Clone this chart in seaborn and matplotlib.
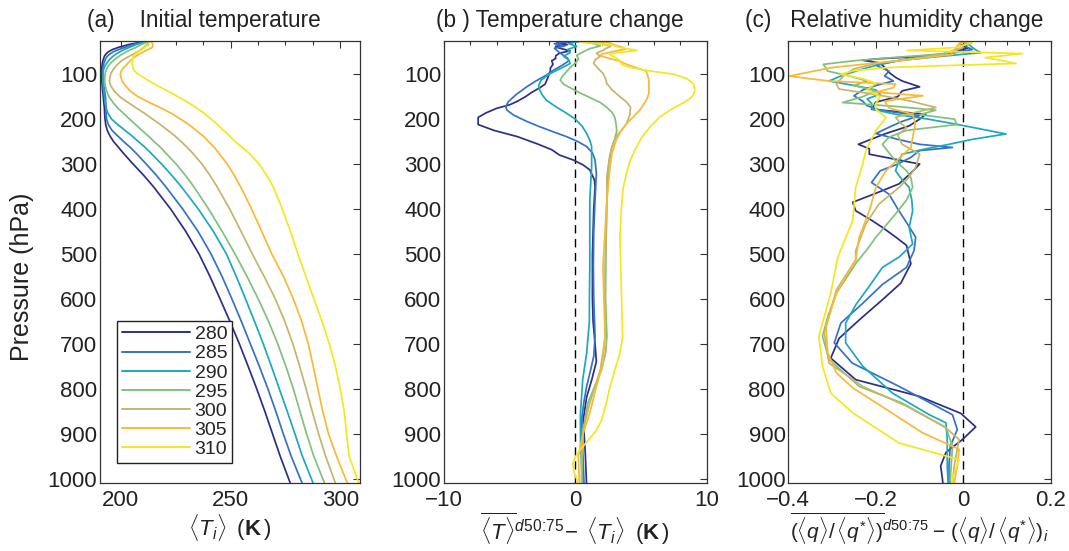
import matplotlib
matplotlib.use("Agg")
import matplotlib.pyplot as plt
from matplotlib.ticker import MultipleLocator
import numpy as np
import pandas as pd
import seaborn as sns

# ---------------------------------------------------------------------------
# Sea-surface temperatures of the seven simulations and their line colours
# ---------------------------------------------------------------------------
sst = [280, 285, 290, 295, 300, 305, 310]
sst_colors = ["#2d2f86", "#3572c6", "#1ba9bf", "#7ec27c",
              "#c3b56b", "#f9b934", "#f5e61f"]

# ---------------------------------------------------------------------------
# (a) initial temperature profiles <T_i> (K) on common pressure levels (hPa)
# ---------------------------------------------------------------------------
p_init = [28, 34, 40, 45, 50, 55, 60, 67, 75, 82, 90, 97, 105, 115, 125, 137,
          150, 162, 175, 187, 200, 212, 225, 237, 250, 262, 275, 300, 325, 350,
          400, 450, 500, 550, 600, 650, 700, 750, 800, 850, 900, 950, 1010]
t_init_280 = [209.6, 203.5, 199.0, 196.2, 194.3, 193.2, 192.5, 192.0, 191.6,
              191.4, 191.2, 191.2, 191.2, 191.3, 191.5, 191.7, 192.0, 192.2,
              192.5, 192.6, 192.8, 193.1, 193.8, 195.0, 196.7, 198.8, 201.0,
              205.6, 210.4, 214.8, 222.7, 229.6, 235.6, 240.6, 245.2, 249.7,
              254.0, 258.0, 261.9, 265.6, 269.1, 272.6, 277.2]
t_init_285 = [210.3, 205.5, 202.0, 199.0, 196.6, 195.0, 193.8, 192.9, 192.3,
              192.0, 191.8, 191.8, 191.8, 192.0, 192.2, 192.6, 193.0, 193.1,
              193.2, 193.3, 193.5, 194.3, 196.0, 198.5, 201.3, 204.1, 206.8,
              211.6, 216.2, 220.4, 228.2, 235.2, 241.1, 246.1, 250.6, 254.9,
              259.0, 263.1, 267.0, 270.6, 274.0, 277.6, 282.6]
t_init_290 = [211.1, 207.0, 204.0, 201.6, 199.6, 197.8, 196.4, 194.9, 193.6,
              192.7, 192.1, 191.9, 191.8, 191.9, 192.0, 192.2, 192.5, 192.8,
              193.3, 194.1, 195.8, 198.6, 201.9, 205.0, 208.0, 210.9, 213.6,
              218.6, 223.2, 227.5, 235.3, 242.2, 248.1, 252.6, 256.8, 260.9,
              264.9, 268.6, 272.2, 275.8, 279.3, 282.7, 287.6]
t_init_295 = [212.0, 209.3, 207.0, 204.6, 202.5, 200.7, 199.1, 197.2, 195.4,
              194.2, 193.4, 192.9, 192.7, 192.6, 192.9, 193.5, 194.6, 196.3,
              198.5, 201.2, 204.0, 206.7, 209.6, 212.4, 215.2, 217.9, 220.4,
              225.2, 229.4, 233.2, 240.0, 246.2, 252.0, 257.5, 262.6, 267.3,
              271.5, 275.2, 278.6, 281.6, 284.6, 287.9, 292.8]
t_init_300 = [212.8, 211.8, 210.5, 209.2, 207.6, 205.8, 203.8, 201.2, 199.1,
              197.7, 196.5, 195.6, 195.1, 194.8, 195.3, 196.9, 199.5, 203.0,
              207.0, 210.8, 214.5, 218.0, 221.4, 224.6, 227.5, 230.1, 232.6,
              237.0, 240.6, 243.8, 249.6, 254.8, 259.9, 265.3, 270.4, 274.7,
              278.4, 281.5, 284.4, 287.2, 290.1, 293.3, 297.8]
t_init_305 = [214.0, 214.6, 214.4, 212.5, 210.3, 208.4, 206.8, 205.0, 203.3,
              202.0, 200.5, 199.8, 199.9, 200.6, 202.0, 204.2, 207.8, 212.6,
              218.2, 223.0, 227.2, 231.0, 234.4, 237.4, 240.0, 242.4, 244.6,
              248.5, 251.7, 254.5, 259.6, 264.2, 268.8, 274.1, 278.6, 282.4,
              285.4, 287.7, 289.8, 292.0, 294.6, 298.3, 303.2]
t_init_310 = [213.2, 212.5, 211.0, 209.5, 208.0, 206.6, 205.7, 205.3, 205.2,
              205.3, 205.8, 207.2, 209.6, 212.8, 216.5, 221.2, 226.0, 230.4,
              234.5, 238.0, 241.2, 244.0, 246.8, 249.5, 252.1, 255.2, 258.3,
              263.0, 266.5, 269.4, 273.6, 277.3, 280.7, 284.3, 288.0, 291.7,
              295.0, 297.8, 300.0, 301.8, 302.9, 304.0, 308.4]

# ---------------------------------------------------------------------------
# (b) temperature change (K): pressure levels and values for each run
# ---------------------------------------------------------------------------
p_dt_280 = [27, 30, 34, 38, 41, 45, 48, 53, 59, 65, 70, 78, 86, 93, 100, 108,
            115, 122, 130, 140, 150, 160, 168, 176, 186, 196, 212, 225, 239,
            255, 268, 280, 291, 302, 313, 335, 350, 400, 500, 600, 650, 700,
            740, 780, 820, 870, 940, 1010]
dt_280 = [0.3, -1.4, -0.6, -1.5, -1.3, -0.8, -0.4, -1.2, -1.5, -1.5, -1.8,
          -1.7, -1.9, -1.9, -2.0, -2.1, -2.2, -2.3, -2.7, -3.3, -3.8, -4.4,
          -5.0, -6.0, -6.8, -7.4, -7.4, -6.2, -4.4, -2.9, -1.8, -1.2, -0.15,
          0.6, 1.1, 1.45, 1.5, 1.4, 1.3, 1.3, 1.35, 1.5, 1.6, 1.25, 0.85, 0.6,
          0.75, 0.85]
p_dt_285 = [27, 32, 37, 42, 47, 52, 58, 64, 70, 80, 90, 102, 115, 128, 145,
            161, 172, 180, 191, 205, 217, 228, 239, 250, 261, 275, 291, 321,
            380, 450, 528, 600, 684, 728, 760, 795, 830, 869, 930, 1010]
dt_285 = [-0.5, -1.6, -0.8, -1.6, -1.4, -1.2, -0.9, -0.6, -0.5, -1.0, -1.6,
          -2.2, -3.0, -3.7, -4.5, -5.1, -5.3, -5.2, -4.7, -3.7, -2.7, -1.7,
          -0.66, 0.2, 0.86, 1.3, 1.5, 1.6, 1.5, 1.4, 1.37, 1.4, 1.5, 1.4,
          1.15, 0.86, 0.65, 0.48, 0.55, 0.66]
p_dt_290 = [27, 32, 38, 45, 52, 60, 68, 76, 84, 91, 100, 113, 125, 136, 147,
            158, 172, 187, 200, 215, 232, 247, 261, 306, 380, 528, 600, 650,
            721, 780, 860, 930, 1010]
dt_290 = [0.2, -0.5, 0.1, -0.6, -0.4, -0.9, -0.5, -0.4, -0.9, -1.4, -2.0,
          -2.6, -2.8, -2.7, -2.5, -2.2, -1.5, -0.66, 0.0, 0.5, 0.86, 1.1,
          1.24, 1.24, 1.1, 1.1, 1.07, 1.07, 0.86, 0.56, 0.38, 0.4, 0.56]
p_dt_295 = [27, 32, 37, 43, 50, 58, 66, 75, 85, 95, 105, 113, 122, 130, 141,
            152, 163, 174, 185, 196, 211, 226, 245, 263, 290, 315, 389, 500,
            600, 684, 720, 758, 800, 832, 891, 950, 1010]
dt_295 = [0.5, 1.4, 1.9, 1.1, 0.6, 0.1, 0.25, 0.0, -0.4, -0.7, -1.0, -1.15,
          -0.9, -0.4, 0.3, 1.12, 1.9, 2.4, 2.8, 3.0, 3.1, 3.15, 3.0, 2.77,
          2.6, 2.5, 2.4, 2.33, 2.3, 2.4, 2.3, 2.0, 1.4, 0.95, 0.6, 0.45, 0.48]
p_dt_300 = [27, 32, 38, 43, 47, 53, 60, 68, 76, 86, 98, 110, 121, 135, 150,
            162, 173, 190, 210, 225, 239, 260, 284, 328, 380, 528, 684, 720,
            758, 795, 832, 891, 950, 1010]
dt_300 = [0.8, 2.0, 2.7, 2.3, 2.1, 1.6, 1.9, 1.5, 1.4, 1.7, 2.1, 2.3, 2.4,
          2.8, 3.4, 3.9, 4.2, 4.15, 3.9, 3.5, 3.1, 2.8, 2.6, 2.4, 2.4, 2.26,
          2.26, 2.1, 1.9, 1.5, 1.1, 0.6, 0.5, 0.48]
p_dt_305 = [27, 30, 35, 40, 44, 50, 55, 59, 65, 70, 78, 85, 93, 113, 143, 158,
            180, 195, 210, 230, 247, 275, 306, 380, 528, 684, 743, 795, 854,
            899, 950, 1010]
dt_305 = [1.5, 2.6, 3.0, 3.6, 3.8, 2.8, 2.0, 1.9, 2.6, 3.3, 3.9, 4.6, 5.4,
          5.6, 5.6, 5.4, 4.9, 4.4, 3.9, 3.4, 3.1, 2.8, 2.64, 2.4, 2.1, 2.26,
          2.1, 1.6, 1.1, 0.6, 0.23, 0.3]
p_dt_310 = [27, 30, 35, 40, 47, 52, 56, 62, 70, 78, 85, 92, 100, 110, 122, 135,
            145, 155, 167, 180, 196, 217, 241, 265, 293, 320, 352, 400, 463,
            530, 574, 633, 685, 720, 759, 800, 833, 870, 893, 919, 937, 952,
            967, 985, 1010]
dt_310 = [0.2, 1.0, 2.8, 3.3, 4.7, 3.2, 2.6, 3.0, 3.4, 3.5, 4.2, 5.5, 7.5,
          8.5, 9.0, 9.1, 9.0, 8.7, 8.0, 7.2, 6.4, 5.7, 5.05, 4.6, 4.16, 3.9,
          3.65, 3.5, 3.4, 3.45, 3.5, 3.55, 3.6, 3.4, 3.0, 2.6, 2.35, 2.0, 1.6,
          0.86, 0.35, 0.0, -0.2, -0.1, 0.2]

# ---------------------------------------------------------------------------
# (c) relative humidity change: pressure levels and values for each run
# ---------------------------------------------------------------------------
p_drh_280 = [27, 32, 36, 42, 50, 58, 66, 69, 75, 85, 96, 107, 115, 128, 137,
             150, 162, 178, 189, 200, 215, 233, 256, 266, 278, 300, 320, 344,
             365, 385, 404, 425, 441, 463, 481, 522, 565, 602, 647, 688, 732,
             780, 817, 855, 885, 913, 942, 972, 1001, 1010]
drh_280 = [0.0, 0.003, -0.005, 0.01, -0.02, -0.06, -0.2, -0.23, -0.19, -0.18,
           -0.17, -0.155, -0.14, -0.10, -0.14, -0.15, -0.2, -0.21, -0.086,
           -0.10, -0.124, -0.18, -0.24, -0.215, -0.215, -0.10, -0.12, -0.147,
           -0.2, -0.253, -0.246, -0.21, -0.185, -0.154, -0.13, -0.12, -0.143,
           -0.185, -0.238, -0.284, -0.303, -0.246, -0.101, -0.006, 0.028,
           -0.002, -0.04, -0.052, -0.048, -0.047]
p_drh_285 = [27, 32, 38, 45, 52, 60, 70, 80, 93, 104, 115, 125, 135, 148, 160,
             170, 180, 192, 205, 218, 232, 245, 256, 263, 270, 285, 300, 315,
             341, 367, 400, 430, 463, 493, 530, 568, 610, 654, 698, 743, 795,
             858, 891, 928, 972, 1010]
drh_285 = [0.0, 0.01, 0.005, 0.02, -0.02, -0.1, -0.15, -0.2, -0.17, -0.18,
           -0.16, -0.2, -0.23, -0.25, -0.23, -0.22, -0.19, -0.1, -0.14, -0.17,
           -0.2, -0.15, -0.1, -0.025, -0.1, -0.12, -0.15, -0.19, -0.21, -0.17,
           -0.15, -0.13, -0.109, -0.113, -0.13, -0.185, -0.23, -0.28, -0.295,
           -0.254, -0.147, -0.025, -0.014, -0.03, -0.033, -0.033]
p_drh_290 = [27, 32, 40, 47, 52, 60, 70, 80, 93, 104, 115, 125, 135, 144, 155,
             165, 178, 190, 200, 211, 222, 233, 245, 256, 267, 278, 300, 315,
             335, 352, 380, 404, 441, 478, 507, 530, 572, 612, 654, 698, 750,
             810, 858, 876, 913, 972, 1010]
drh_290 = [0.0, 0.01, 0.02, 0.03, 0.04, -0.05, -0.15, -0.2, -0.246, -0.28,
           -0.307, -0.25, -0.2, -0.19, -0.22, -0.21, -0.208, -0.15, -0.08,
           -0.018, 0.04, 0.097, 0.02, -0.033, -0.09, -0.14, -0.15, -0.155,
           -0.14, -0.124, -0.118, -0.116, -0.124, -0.116, -0.147, -0.185,
           -0.215, -0.245, -0.269, -0.269, -0.23, -0.162, -0.078, -0.04,
           -0.037, -0.037, -0.035]
p_drh_295 = [27, 33, 40, 47, 55, 62, 70, 78, 85, 93, 104, 115, 125, 137, 150,
             163, 172, 180, 190, 200, 212, 225, 240, 256, 275, 293, 315, 330,
             352, 380, 411, 440, 463, 490, 520, 550, 587, 640, 683, 735, 795,
             832, 887, 928, 987, 1010]
drh_295 = [0.0, 0.005, -0.01, -0.02, -0.05, -0.15, -0.25, -0.32, -0.315,
           -0.31, -0.26, -0.22, -0.25, -0.2, -0.23, -0.276, -0.15, -0.063,
           -0.1, -0.02, -0.015, -0.13, -0.17, -0.185, -0.17, -0.155, -0.13,
           -0.12, -0.116, -0.13, -0.155, -0.18, -0.2, -0.22, -0.245, -0.265,
           -0.29, -0.31, -0.322, -0.307, -0.238, -0.14, -0.04, -0.025, -0.029,
           -0.03]
p_drh_300 = [27, 33, 40, 48, 56, 66, 76, 88, 100, 110, 122, 133, 145, 160,
             174, 185, 196, 208, 219, 235, 256, 278, 307, 330, 352, 389, 433,
             493, 513, 580, 676, 743, 795, 839, 884, 913, 972, 1010]
drh_300 = [0.0, -0.01, 0.0, -0.02, -0.05, -0.12, -0.2, -0.25, -0.27, -0.28,
           -0.29, -0.284, -0.2, -0.12, -0.063, -0.11, -0.155, -0.145, -0.13,
           -0.15, -0.14, -0.10, -0.109, -0.125, -0.147, -0.193, -0.223,
           -0.246, -0.246, -0.29, -0.318, -0.307, -0.23, -0.13, -0.044, -0.01,
           -0.021, -0.025]
p_drh_305 = [27, 32, 38, 45, 50, 56, 70, 85, 104, 110, 115, 122, 130, 140,
             148, 160, 175, 189, 210, 241, 263, 290, 315, 352, 404, 463, 513,
             587, 661, 720, 765, 798, 850, 898, 935, 972, 1010]
drh_305 = [0.0, -0.01, -0.015, -0.02, -0.03, -0.025, -0.15, -0.3, -0.398,
           -0.35, -0.307, -0.155, -0.16, -0.2, -0.093, -0.18, -0.17, -0.116,
           -0.11, -0.116, -0.12, -0.15, -0.177, -0.2, -0.215, -0.238, -0.246,
           -0.29, -0.314, -0.31, -0.29, -0.253, -0.17, -0.094, -0.01, -0.014,
           -0.021]
p_drh_310 = [27, 30, 35, 40, 47, 54, 63, 70, 76, 81, 85, 92, 100, 110, 120,
             135, 150, 165, 178, 196, 226, 270, 300, 352, 426, 500, 513, 587,
             683, 750, 810, 854, 921, 958, 1001, 1010]
drh_310 = [0.0, 0.02, 0.0, -0.01, -0.128, 0.135, 0.05, 0.09, 0.12, -0.05,
           -0.17, -0.25, -0.28, -0.23, -0.2, -0.22, -0.19, -0.2, -0.2, -0.177,
           -0.2, -0.223, -0.23, -0.246, -0.253, -0.284, -0.288, -0.303, -0.33,
           -0.322, -0.303, -0.253, -0.147, -0.01, -0.025, -0.025]

# ---------------------------------------------------------------------------
# Long-form tables for seaborn
# ---------------------------------------------------------------------------
t_init = [t_init_280, t_init_285, t_init_290, t_init_295,
          t_init_300, t_init_305, t_init_310]
p_dt = [p_dt_280, p_dt_285, p_dt_290, p_dt_295, p_dt_300, p_dt_305, p_dt_310]
dt = [dt_280, dt_285, dt_290, dt_295, dt_300, dt_305, dt_310]
p_drh = [p_drh_280, p_drh_285, p_drh_290, p_drh_295,
         p_drh_300, p_drh_305, p_drh_310]
drh = [drh_280, drh_285, drh_290, drh_295, drh_300, drh_305, drh_310]


def long_table(levels, values):
    rows = []
    for s, p_list, v_list in zip(sst, levels, values):
        for p, v in zip(p_list, v_list):
            rows.append({"sst": str(s), "p": p, "v": v})
    return pd.DataFrame(rows)


df_a = long_table([p_init] * len(sst), t_init)
df_b = long_table(p_dt, dt)
df_c = long_table(p_drh, drh)

# ---------------------------------------------------------------------------
# Styling
# ---------------------------------------------------------------------------
sns.set_style("white")
plt.rcParams["font.family"] = ["Liberation Sans", "DejaVu Sans"]
plt.rcParams["mathtext.fontset"] = "custom"
plt.rcParams["mathtext.rm"] = "Liberation Sans"
plt.rcParams["mathtext.it"] = "Liberation Sans:italic"
plt.rcParams["mathtext.bf"] = "Liberation Sans:bold"
plt.rcParams["axes.unicode_minus"] = True

text_color = "#222222"
palette = dict(zip([str(s) for s in sst], sst_colors))

W, H = 1069, 551
fig = plt.figure(figsize=(W / 100, H / 100), dpi=100)
fig.patch.set_facecolor("white")

ax_top, ax_bottom = 41, 483
boxes = [(100, 360), (444, 706.7), (788.3, 1051)]
axes = [fig.add_axes([l / W, 1 - ax_bottom / H, (r - l) / W,
                      (ax_bottom - ax_top) / H]) for l, r in boxes]
ax_a, ax_b, ax_c = axes

for ax, df in zip(axes, [df_a, df_b, df_c]):
    sns.lineplot(data=df, x="v", y="p", hue="sst", palette=palette,
                 sort=False, estimator=None, linewidth=1.25, ax=ax,
                 legend=(ax is ax_a))

for ax in axes:
    ax.set_ylim(1010, 26)
    ax.set_yticks(np.arange(100, 1001, 100))
    ax.set_ylabel("")
    ax.set_xlabel("")
    for sp in ax.spines.values():
        sp.set_visible(True)
        sp.set_color("#333333")
        sp.set_linewidth(0.9)
    ax.tick_params(which="both", direction="in", top=True, right=True,
                   colors="#333333", labelcolor=text_color, width=0.8)
    ax.tick_params(which="major", length=5, labelsize=16)
    ax.tick_params(which="minor", length=3)
    ax.tick_params(axis="y", which="major", pad=2)
    ax.tick_params(axis="x", which="major", pad=5)

# superscript used on the time-mean quantities
sup = r"^{\mathit{d50}\!:\!\mathit{75}}"

# panel (a)
ax_a.set_xlim(190.5, 309)
ax_a.set_xticks([200, 250, 300])
ax_a.xaxis.set_minor_locator(MultipleLocator(12.5))
ax_a.set_ylabel("Pressure (hPa)", fontsize=18, color=text_color)
ax_a.yaxis.set_label_coords(-0.255, 0.466)
ax_a.set_xlabel(r"$\langle T_i\rangle\;\;(\mathbf{K}\,)$", fontsize=16,
                color=text_color, labelpad=1)

# panel (b)
ax_b.set_xlim(-10, 10)
ax_b.set_xticks([-10, 0, 10])
ax_b.xaxis.set_minor_locator(MultipleLocator(2))
ax_b.axvline(0, color="black", linestyle=(0, (6, 4)), linewidth=1.0, zorder=0)
ax_b.set_xlabel(r"$\overline{\langle T\rangle}" + sup + r"\!-\;"
                r"\langle T_i\rangle\;\;(\mathbf{K}\,)$",
                fontsize=16, color=text_color, labelpad=0)

# panel (c)
ax_c.set_xlim(-0.4, 0.2)
ax_c.set_xticks([-0.4, -0.2, 0, 0.2])
ax_c.set_xticklabels(["\u22120.4", "\u22120.2", "0", "0.2"])
ax_c.xaxis.set_minor_locator(MultipleLocator(0.05))
ax_c.axvline(0, color="black", linestyle=(0, (6, 4)), linewidth=1.0, zorder=0)
ax_c.set_xlabel(r"$\overline{(\langle q\rangle/\,\langle q^{*}\rangle)}" + sup +
                r"-\,(\langle q\rangle/\,\langle q^{*}\rangle)_i$",
                fontsize=15, color=text_color, labelpad=0)

# panel titles
title_y = 1 + 14 / (ax_bottom - ax_top)
title_size = 16.3
ax_a.text(-0.05, title_y, "(a)    Initial temperature", transform=ax_a.transAxes,
          fontsize=title_size, color=text_color, ha="left", va="baseline")
ax_b.text(-0.03, title_y, "(b ) Temperature change", transform=ax_b.transAxes,
          fontsize=title_size, color=text_color, ha="left", va="baseline")
ax_c.text(-0.165, title_y, "(c)   Relative humidity change",
          transform=ax_c.transAxes, fontsize=title_size, color=text_color,
          ha="left", va="baseline")

# legend in panel (a)
leg = ax_a.legend(title=None, loc="lower left", bbox_to_anchor=(0.065, 0.045),
                  fontsize=14, frameon=True, fancybox=False, framealpha=1,
                  edgecolor="#222222", handlelength=3.5, handletextpad=0.25,
                  labelspacing=0.08, borderpad=0.25, borderaxespad=0)
leg.get_frame().set_linewidth(1.0)
for line in leg.get_lines():
    line.set_linewidth(1.4)

fig.savefig("out.png", dpi=100, facecolor="white")
